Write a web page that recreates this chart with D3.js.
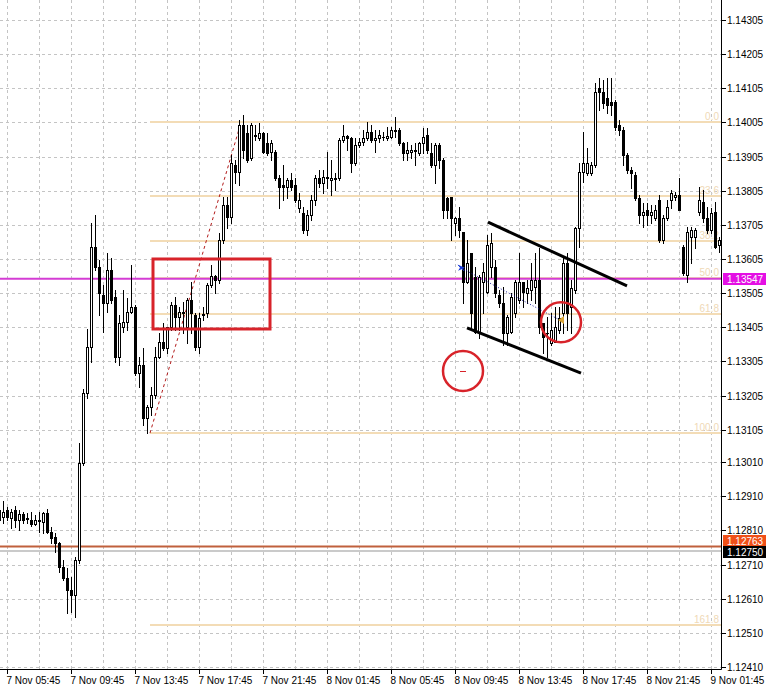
<!DOCTYPE html>
<html><head><meta charset="utf-8">
<script src="https://cdn.jsdelivr.net/npm/d3@7"></script>
<style>
body{margin:0;background:#fff}
svg{display:block}
text{font-family:"Liberation Sans",Arial,sans-serif;font-size:10px}
</style>
</head><body>
<svg id="chart" width="769" height="692"></svg>
<script>
// ---------- DATA (EURUSD M15) ----------
const opens=[
1.12841,1.12849,1.12870,1.12846,1.12870,1.12841,1.12858,1.12846,1.12841,1.12829,
1.12841,1.12835,1.12861,1.12805,1.12791,1.12773,1.12703,1.12671,1.12636,1.12621,
1.12723,1.13008,1.13213,1.13347,1.13640,1.13582,1.13500,1.13476,1.13573,1.13494,
1.13318,1.13406,1.13420,1.13450,1.13464,1.13271,1.13295,1.13139,1.13172,1.13207,
1.13318,1.13362,1.13344,1.13406,1.13470,1.13435,1.13450,1.13406,1.13485,1.13441,
1.13347,1.13441,1.13447,1.13529,1.13555,1.13544,1.13661,1.13763,1.13728,1.13880,
1.13860,1.13997,1.13974,1.13901,1.13965,1.13959,1.13974,1.13945,1.13918,1.13918,
1.13842,1.13822,1.13816,1.13836,1.13822,1.13754,1.13740,1.13690,1.13734,1.13778,
1.13842,1.13828,1.13842,1.13836,1.13842,1.13842,1.13954,1.13965,1.13959,1.13886,
1.13939,1.13948,1.13959,1.13977,1.13954,1.13959,1.13962,1.13959,1.13962,1.13983,
1.13983,1.13945,1.13915,1.13918,1.13924,1.13915,1.13945,1.13968,1.13915,1.13880,
1.13939,1.13895,1.13784,1.13787,1.13710,1.13725,1.13684,1.13538,1.13623,1.13552,
1.13391,1.13538,1.13508,1.13582,1.13582,1.13500,1.13476,1.13388,1.13391,1.13447,
1.13485,1.13538,1.13505,1.13514,1.13523,1.13544,1.13418,1.13388,1.13359,1.13362,
1.13397,1.13447,1.13593,1.13464,1.13514,1.13696,1.13860,1.13857,1.13857,1.13880,
1.14106,1.14094,1.14077,1.14065,1.14065,1.13997,1.13983,1.13910,1.13866,1.13851,
1.13784,1.13734,1.13749,1.13734,1.13725,1.13778,1.13661,1.13725,1.13778,1.13787,
1.13792,1.13640,1.13558,1.13669,1.13669,1.13743,1.13772,1.13725,1.13690,1.13743,1.13646];
const highs=[
1.12896,1.12896,1.12879,1.12873,1.12882,1.12870,1.12864,1.12861,1.12864,1.12855,
1.12864,1.12864,1.12873,1.12820,1.12802,1.12776,1.12723,1.12700,1.12674,1.12732,
1.13066,1.13224,1.13400,1.13710,1.13734,1.13602,1.13529,1.13623,1.13608,1.13514,
1.13441,1.13514,1.13491,1.13587,1.13470,1.13318,1.13344,1.13177,1.13230,1.13347,
1.13388,1.13418,1.13406,1.13479,1.13494,1.13464,1.13479,1.13491,1.13538,1.13447,
1.13447,1.13464,1.13535,1.13587,1.13558,1.13681,1.13787,1.13787,1.13910,1.13895,
1.14012,1.14027,1.13997,1.14003,1.13997,1.14003,1.13977,1.13974,1.13954,1.13924,
1.13851,1.13880,1.13842,1.13857,1.13842,1.13798,1.13757,1.13749,1.13792,1.13851,
1.13866,1.13866,1.13918,1.13895,1.13857,1.13959,1.13997,1.13968,1.13962,1.13959,
1.13959,1.13983,1.14006,1.13997,1.13983,1.13983,1.13977,1.13992,1.13992,1.14021,
1.13989,1.13948,1.13948,1.13939,1.13945,1.13948,1.13989,1.13989,1.13945,1.13945,
1.13945,1.13901,1.13787,1.13787,1.13728,1.13757,1.13684,1.13661,1.13623,1.13582,
1.13558,1.13593,1.13675,1.13681,1.13602,1.13514,1.13523,1.13441,1.13505,1.13544,
1.13623,1.13538,1.13544,1.13593,1.13623,1.13637,1.13418,1.13435,1.13447,1.13464,
1.13464,1.13611,1.13623,1.13544,1.13699,1.13886,1.13977,1.13930,1.13889,1.14121,
1.14135,1.14129,1.14135,1.14135,1.14071,1.14012,1.13992,1.13915,1.13874,1.13860,
1.13792,1.13769,1.13769,1.13763,1.13763,1.13792,1.13734,1.13778,1.13807,1.13801,
1.13842,1.13646,1.13699,1.13699,1.13696,1.13816,1.13807,1.13757,1.13754,1.13772,1.13669];
const lows=[
1.12826,1.12832,1.12841,1.12817,1.12820,1.12811,1.12832,1.12832,1.12823,1.12826,
1.12805,1.12802,1.12802,1.12773,1.12747,1.12688,1.12665,1.12568,1.12571,1.12556,
1.12715,1.13002,1.13198,1.13303,1.13573,1.13441,1.13391,1.13450,1.13476,1.13303,
1.13295,1.13391,1.13397,1.13447,1.13265,1.13230,1.13119,1.13095,1.13148,1.13198,
1.13315,1.13338,1.13330,1.13397,1.13397,1.13397,1.13388,1.13359,1.13388,1.13338,
1.13330,1.13426,1.13435,1.13523,1.13505,1.13535,1.13652,1.13696,1.13710,1.13828,
1.13822,1.13901,1.13889,1.13895,1.13954,1.13954,1.13915,1.13910,1.13895,1.13836,
1.13754,1.13778,1.13784,1.13807,1.13772,1.13743,1.13681,1.13675,1.13719,1.13763,
1.13816,1.13798,1.13813,1.13792,1.13807,1.13836,1.13948,1.13924,1.13860,1.13880,
1.13933,1.13939,1.13954,1.13948,1.13918,1.13948,1.13954,1.13954,1.13959,1.13962,
1.13939,1.13895,1.13895,1.13901,1.13880,1.13910,1.13915,1.13915,1.13874,1.13828,
1.13872,1.13725,1.13725,1.13661,1.13675,1.13669,1.13476,1.13535,1.13397,1.13388,
1.13374,1.13447,1.13505,1.13552,1.13494,1.13464,1.13353,1.13353,1.13388,1.13435,
1.13476,1.13464,1.13476,1.13485,1.13476,1.13388,1.13330,1.13318,1.13353,1.13362,
1.13388,1.13388,1.13397,1.13388,1.13505,1.13640,1.13831,1.13851,1.13851,1.13874,
1.14041,1.14047,1.14033,1.14027,1.13983,1.13968,1.13880,1.13857,1.13813,1.13778,
1.13710,1.13699,1.13705,1.13710,1.13719,1.13655,1.13652,1.13719,1.13754,1.13778,
1.13749,1.13558,1.13538,1.13593,1.13637,1.13734,1.13713,1.13681,1.13681,1.13637,1.13626];
const closes=[
1.12870,1.12864,1.12849,1.12864,1.12841,1.12858,1.12841,1.12843,1.12829,1.12841,
1.12838,1.12861,1.12805,1.12788,1.12773,1.12703,1.12671,1.12636,1.12621,1.12723,
1.13008,1.13213,1.13347,1.13640,1.13582,1.13505,1.13476,1.13573,1.13485,1.13318,
1.13418,1.13420,1.13450,1.13464,1.13271,1.13295,1.13139,1.13172,1.13207,1.13318,
1.13362,1.13344,1.13406,1.13470,1.13435,1.13450,1.13447,1.13485,1.13447,1.13347,
1.13432,1.13444,1.13529,1.13555,1.13544,1.13661,1.13763,1.13728,1.13886,1.13860,
1.13997,1.13924,1.13895,1.13997,1.13968,1.13974,1.13918,1.13915,1.13945,1.13842,
1.13816,1.13816,1.13836,1.13816,1.13778,1.13778,1.13690,1.13734,1.13778,1.13842,
1.13828,1.13845,1.13845,1.13842,1.13839,1.13954,1.13965,1.13959,1.13886,1.13939,
1.13948,1.13959,1.13977,1.13954,1.13959,1.13968,1.13962,1.13965,1.13983,1.13980,
1.13945,1.13915,1.13924,1.13924,1.13921,1.13945,1.13962,1.13924,1.13880,1.13939,
1.13895,1.13749,1.13749,1.13725,1.13725,1.13690,1.13538,1.13593,1.13447,1.13391,
1.13552,1.13567,1.13646,1.13652,1.13505,1.13476,1.13388,1.13435,1.13494,1.13538,
1.13538,1.13508,1.13520,1.13544,1.13544,1.13406,1.13377,1.13388,1.13397,1.13406,
1.13432,1.13593,1.13447,1.13520,1.13696,1.13860,1.13886,1.13886,1.13880,1.14094,
1.14094,1.14062,1.14056,1.14056,1.13992,1.13983,1.13910,1.13866,1.13857,1.13784,
1.13734,1.13743,1.13734,1.13743,1.13749,1.13661,1.13725,1.13757,1.13798,1.13792,
1.13749,1.13564,1.13684,1.13690,1.13690,1.13778,1.13725,1.13690,1.13740,1.13640,1.13661];

const timeLabels=["7 Nov 05:45","7 Nov 09:45","7 Nov 13:45","7 Nov 17:45","7 Nov 21:45","8 Nov 01:45",
  "8 Nov 05:45","8 Nov 09:45","8 Nov 13:45","8 Nov 17:45","8 Nov 21:45","9 Nov 01:45"];
const timeLabelIndex=[2,18,34,50,66,82,98,114,130,146,162,178];
const gridIndex=[2,10,18,26,34,42,50,58,66,74,82,90,98,106,114,122,130,138,146,154,162,170,178];
const priceTicks=["1.14305","1.14205","1.14105","1.14005","1.13905","1.13805","1.13705","1.13605","1.13505",
  "1.13405","1.13305","1.13205","1.13105","1.13010","1.12910","1.12810","1.12710","1.12610","1.12510","1.12410"];

// Fibonacci retracement
const fibLevels=[0,23.6,38.2,50,61.8,100,161.8];
const fibLabels=["0.0","23.6","38.2","50.0","61.8","100.0","161.8"];
const fibAnchorIndex=[37.75,60.5];
const fibAnchorPrice=[1.13095,1.14005];

// horizontal lines
const hLinePrices=[1.12763,1.12750,1.13547];
const hLineLabels=["1.12763","1.12750","1.13547"];

// drawn objects
const rectIndex=[38.5,67.75], rectPrice=[1.13605,1.13400];
const trendUpperIndex=[122.25,157], trendUpperPrice=[1.13713,1.13526];
const trendLowerIndex=[117,145.5], trendLowerPrice=[1.13403,1.13271];
const circleIndex=[116,140.5], circlePrice=[1.13277,1.13420];
const tradeIndex=[115.5,140.25], tradePrice=[1.13579,1.13426];

// ---------- CHART ----------
const W=769,H=692,plotR=721,plotB=669;
const svg=d3.select("#chart");
const x=d3.scaleLinear().domain([0,180]).range([-1,719]);
const y=d3.scaleLinear().domain([1.14305,1.12410]).range([20,667]);
const px=v=>Math.round(v)+0.5;

svg.append("rect").attr("width",W).attr("height",H).attr("fill","#fff");

// grid
const grid=svg.append("g").attr("stroke","#c4c4c4").attr("stroke-dasharray","3,3").attr("stroke-width",1);
priceTicks.forEach(t=>{
  const yy=px(y(+t));
  grid.append("line").attr("x1",0).attr("x2",plotR).attr("y1",yy).attr("y2",yy);
});
gridIndex.forEach(i=>{
  const xx=px(x(i));
  grid.append("line").attr("x1",xx).attr("x2",xx).attr("y1",0).attr("y2",plotB);
});

// fib lines
const fibG=svg.append("g");
const fx1=x(fibAnchorIndex[0]);
fibLevels.forEach((lv,k)=>{
  const p=fibAnchorPrice[1]-(fibAnchorPrice[1]-fibAnchorPrice[0])*lv/100;
  const yy=Math.round(y(p));
  fibG.append("line").attr("x1",fx1).attr("x2",plotR).attr("y1",yy).attr("y2",yy)
    .attr("stroke","#f3dcb6").attr("stroke-width",2);
  fibG.append("text").attr("x",719).attr("y",yy-2).attr("text-anchor","end")
    .attr("fill","#efd9b6").text(fibLabels[k]);
});
// fib diagonal
svg.append("line").attr("x1",x(fibAnchorIndex[0])).attr("y1",y(fibAnchorPrice[0]))
  .attr("x2",x(fibAnchorIndex[1])).attr("y2",y(fibAnchorPrice[1]))
  .attr("stroke","#b31b1b").attr("stroke-width",1).attr("stroke-dasharray","3,3");

// horizontal lines
const hColors=["#c0603c","#b8b8b8","#d43cd4"];
const hWidths=[2,1.5,2];
hLinePrices.forEach((p,k)=>{
  svg.append("line").attr("x1",0).attr("x2",plotR).attr("y1",y(p)).attr("y2",y(p))
    .attr("stroke",hColors[k]).attr("stroke-width",hWidths[k]);
});

// candles
const cg=svg.append("g");
opens.forEach((o,i)=>{
  const c=closes[i],h=highs[i],l=lows[i];
  const cx=Math.round(x(i));
  const yh=Math.round(y(h)),yl=Math.round(y(l));
  const yo=Math.round(y(o)),yc=Math.round(y(c));
  cg.append("line").attr("x1",cx+0.5).attr("x2",cx+0.5).attr("y1",yh).attr("y2",yl+1)
    .attr("stroke","#000").attr("stroke-width",1);
  const top=Math.min(yo,yc),bot=Math.max(yo,yc);
  if(c>=o){
    if(bot-top<1){
      cg.append("rect").attr("x",cx-1).attr("y",top).attr("width",3).attr("height",1).attr("fill","#000");
    }else{
      cg.append("rect").attr("x",cx-0.5).attr("y",top+0.5).attr("width",2).attr("height",bot-top)
        .attr("fill","#fff").attr("stroke","#000").attr("stroke-width",1);
    }
  }else{
    cg.append("rect").attr("x",cx-1).attr("y",top).attr("width",3).attr("height",Math.max(1,bot-top+1))
      .attr("fill","#000");
  }
});

// trade line
svg.append("line").attr("x1",x(tradeIndex[0])).attr("y1",y(tradePrice[0]))
  .attr("x2",x(tradeIndex[1])).attr("y2",y(tradePrice[1]))
  .attr("stroke","#1a1a9a").attr("stroke-width",1).attr("stroke-dasharray","1,2");
{
  const bx=x(tradeIndex[0]),by=y(tradePrice[0]);
  svg.append("path").attr("d",`M${bx-3},${by-3}L${bx+4},${by}L${bx-3},${by+3}L${bx-1},${by}Z`).attr("fill","#1a3cd8");
  svg.append("line").attr("x1",bx-3).attr("x2",bx+3).attr("y1",by-3).attr("y2",by+3).attr("stroke","#1a3cd8");
  const ex=x(tradeIndex[1]),ey=y(tradePrice[1]);
  svg.append("path").attr("d",`M${ex+4},${ey-4}L${ex-2},${ey}L${ex+4},${ey+4}Z`).attr("fill","#d9a53a");
}

// trendlines
[[trendUpperIndex,trendUpperPrice],[trendLowerIndex,trendLowerPrice]].forEach(([ix,pr])=>{
  svg.append("line").attr("x1",x(ix[0])).attr("y1",y(pr[0])).attr("x2",x(ix[1])).attr("y2",y(pr[1]))
    .attr("stroke","#000").attr("stroke-width",3);
});

// red rectangle
svg.append("rect").attr("x",x(rectIndex[0])).attr("y",y(rectPrice[0]))
  .attr("width",x(rectIndex[1])-x(rectIndex[0])).attr("height",y(rectPrice[1])-y(rectPrice[0]))
  .attr("fill","none").attr("stroke","#d8232a").attr("stroke-width",3);

// red circles
circleIndex.forEach((ci,k)=>{
  svg.append("circle").attr("cx",x(ci)).attr("cy",y(circlePrice[k])).attr("r",20)
    .attr("fill","none").attr("stroke","#d8232a").attr("stroke-width",2.5);
});
svg.append("line").attr("x1",x(circleIndex[0])-3).attr("x2",x(circleIndex[0])+3)
  .attr("y1",Math.round(y(circlePrice[0]))+0.5).attr("y2",Math.round(y(circlePrice[0]))+0.5)
  .attr("stroke","#d8232a").attr("stroke-width",1);

// axes lines
svg.append("line").attr("x1",plotR+0.5).attr("x2",plotR+0.5).attr("y1",0).attr("y2",plotB+0.5).attr("stroke","#000");
svg.append("line").attr("x1",0).attr("x2",plotR+0.5).attr("y1",plotB+0.5).attr("y2",plotB+0.5).attr("stroke","#000");

// price axis
priceTicks.forEach(t=>{
  const yy=Math.round(y(+t));
  svg.append("line").attr("x1",plotR).attr("x2",plotR+5).attr("y1",yy+0.5).attr("y2",yy+0.5).attr("stroke","#000");
  svg.append("text").attr("x",727).attr("y",yy+4).attr("fill","#000").text(t);
});

// time axis
timeLabelIndex.forEach((ti,k)=>{
  const xx=px(x(ti));
  svg.append("line").attr("x1",xx).attr("x2",xx).attr("y1",plotB).attr("y2",plotB+5).attr("stroke","#000");
  svg.append("text").attr("x",xx-1).attr("y",684).attr("fill","#000").text(timeLabels[k]);
});

// price labels of horizontal lines (the two close labels are nudged apart so both stay readable)
const boxColors=["#f05018","#000","#e40fe4"];
const boxShift=[-5,1,0];
[0,1,2].forEach(k=>{
  const yy=Math.round(y(hLinePrices[k]))+boxShift[k];
  svg.append("rect").attr("x",723).attr("y",yy-6).attr("width",43).attr("height",12).attr("fill",boxColors[k]);
  svg.append("text").attr("x",727).attr("y",yy+4).attr("fill","#fff").attr("font-size",k<2?"9px":"10px").text(hLineLabels[k]);
});
</script>
</body></html>
